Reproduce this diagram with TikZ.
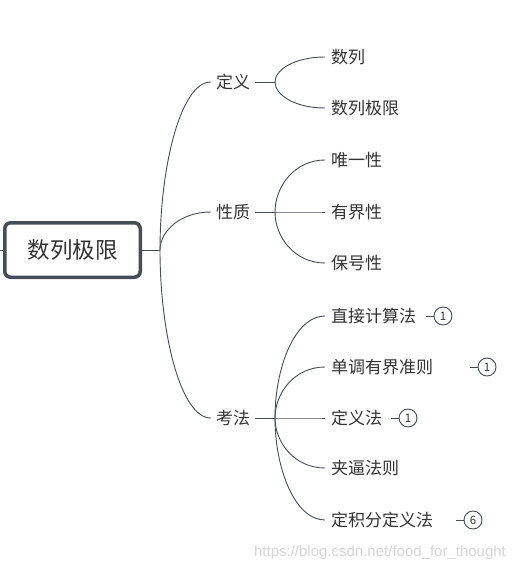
\documentclass[tikz,border=0pt]{standalone}
\usepackage{fontspec}
\usetikzlibrary{calc}
\newfontfamily\cjk{Noto Sans CJK SC}
\setsansfont{Liberation Sans}
\definecolor{linegray}{HTML}{474D55}
\definecolor{textgray}{HTML}{333333}
\definecolor{markgray}{HTML}{D5D5D5}
\tikzset{
  topic/.style={draw=linegray,line width=3.5pt,rounded corners=6pt,
    minimum width=135.5pt,minimum height=54.5pt,fill=white,
    font=\cjk\fontsize{22.5}{26}\selectfont,text=textgray},
  branch/.style={font=\cjk\fontsize{17}{20}\selectfont,text=textgray,inner sep=5pt},
  leaf/.style={branch,anchor=west,inner sep=6pt},
  num/.style={circle,draw=linegray,line width=0.9pt,minimum size=18pt,inner sep=0pt,
    font=\cjk\fontsize{11.5}{13}\selectfont,text=textgray},
  link/.style={draw=linegray,line width=0.9pt},
}
\begin{document}
\begin{tikzpicture}[x=1pt,y=-1pt]
\useasboundingbox (0,0) rectangle (522,572);
% root
\node[topic] (root) at (72.5,250) {数列极限};
\draw[link] (root.west) -- ++(-4,0);
\coordinate (hub) at (160,250);
\draw[link] (root.east) -- (hub);
% branches
\node[branch] (def) at (233,82) {定义};
\node[branch] (prop) at (233,212) {性质};
\node[branch] (test) at (233,418) {考法};
\foreach \b in {def,prop,test}
  \draw[link] (hub) .. controls ($(hub)!0.5!(hub |- \b.west)$) and ($(\b.west)+(-30,0)$) .. (\b.west);
\coordinate (defs) at (275,82);
\coordinate (props) at (275,212);
\coordinate (tests) at (275,418);
\draw[link] (def.east) -- (defs);
\draw[link] (prop.east) -- (props);
\draw[link] (test.east) -- (tests);
% leaves
\node[leaf] (d1) at (325,57) {数列};
\node[leaf] (d2) at (325,108) {数列极限};
\node[leaf] (p1) at (325,160) {唯一性};
\node[leaf] (p2) at (325,212) {有界性};
\node[leaf] (p3) at (325,263) {保号性};
\node[leaf] (t1) at (325,316) {直接计算法};
\node[leaf] (t2) at (325,367) {单调有界准则};
\node[leaf] (t3) at (325,418) {定义法};
\node[leaf] (t4) at (325,468) {夹逼法则};
\node[leaf] (t5) at (325,520) {定积分定义法};
\foreach \l in {d1,d2}
  \draw[link] (defs) .. controls ($(defs)!0.5!(defs |- \l.west)$) and ($(\l.west)+(-30,0)$) .. (\l.west);
\foreach \l in {p1,p2,p3}
  \draw[link] (props) .. controls ($(props)!0.5!(props |- \l.west)$) and ($(\l.west)+(-30,0)$) .. (\l.west);
\foreach \l in {t1,t2,t3,t4,t5}
  \draw[link] (tests) .. controls ($(tests)!0.5!(tests |- \l.west)$) and ($(\l.west)+(-30,0)$) .. (\l.west);
% counts
\node[num] (n1) at (443,316) {1};
\node[num] (n2) at (487,367) {1};
\node[num] (n3) at (408,418) {1};
\node[num] (n5) at (473,520) {6};
\foreach \n in {n1,n2,n3,n5}
  \draw[link] (\n.west) -- ++(-8,0);
% watermark
\node[font=\sffamily\fontsize{15}{17}\selectfont,text=markgray] (mark) at (380,553)
  {https://blog.csdn.net/food\_for\_thought};
\end{tikzpicture}
\end{document}
